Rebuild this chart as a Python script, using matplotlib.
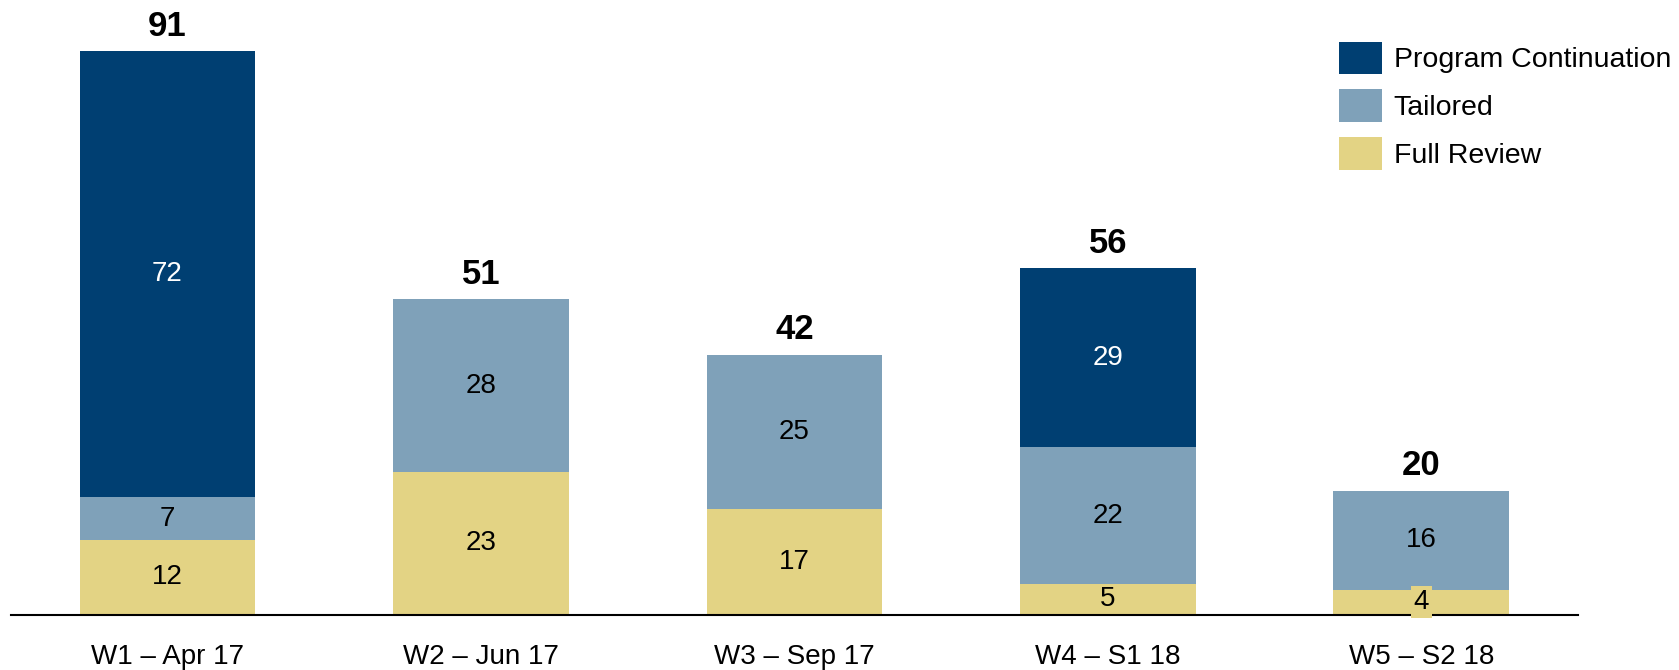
import matplotlib.pyplot as plt
import numpy as np

plt.rcParams['font.family'] = ['Liberation Sans', 'DejaVu Sans']

# Dados
categorias = ['W1 – Apr 17', 'W2 – Jun 17', 'W3 – Sep 17', 'W4 – S1 18', 'W5 – S2 18']
full_review = [12, 23, 17, 5, 4]
tailored = [7, 28, 25, 22, 16]
program_continuation = [72, 0, 0, 29, 0]

series = [
    ('Full Review', full_review, '#E3D384', 'black'),
    ('Tailored', tailored, '#7FA1B9', 'black'),
    ('Program Continuation', program_continuation, '#003F72', 'white'),
]

fig = plt.figure(figsize=(16.79, 6.70), dpi=100)
ax = fig.add_axes([0.0064, 0.0827, 0.9334, 0.9173])

x = np.arange(len(categorias))
largura = 0.56
base = np.zeros(len(categorias))
handles = {}

for nome, valores, cor, cor_txt in series:
    valores = np.array(valores, dtype=float)
    barras = ax.bar(x, valores, largura, bottom=base, color=cor, label=nome, zorder=2)
    handles[nome] = barras
    for i, v in enumerate(valores):
        if v <= 0:
            continue
        centro = base[i] + v / 2
        if v < 5:
            # rótulo pequeno com caixa de fundo
            ax.text(x[i], centro, f'{int(v)}', ha='center', va='center', fontsize=20,
                    color=cor_txt, zorder=4,
                    bbox=dict(facecolor=cor, edgecolor='none', pad=2))
        else:
            ax.text(x[i], centro, f'{int(v)}', ha='center', va='center', fontsize=20,
                    color=cor_txt, zorder=4)
    base += valores

# Totais
for i, total in enumerate(base):
    ax.annotate(f'{int(total)}', (x[i], total), xytext=(0, 6), textcoords='offset points',
                ha='center', va='bottom', fontsize=25, fontweight='bold')

ax.set_xlim(-0.5, 4.5)
ax.set_ylim(0, 99.3)
ax.set_xticks(x)
ax.set_xticklabels(categorias, fontsize=20)
ax.tick_params(axis='x', length=0, pad=21)
ax.set_yticks([])
for lado in ['top', 'right', 'left']:
    ax.spines[lado].set_visible(False)
ax.spines['bottom'].set_linewidth(1.5)
ax.spines['bottom'].set_zorder(3)

ordem = ['Program Continuation', 'Tailored', 'Full Review']
fig.legend([handles[n] for n in ordem], ordem, loc='upper left',
           bbox_to_anchor=(0.791, 0.955), frameon=False, fontsize=20.5,
           handlelength=1.5, handleheight=1.4, handletextpad=0.4,
           labelspacing=0.52, borderaxespad=0)

fig.savefig('out.png', dpi=100)
